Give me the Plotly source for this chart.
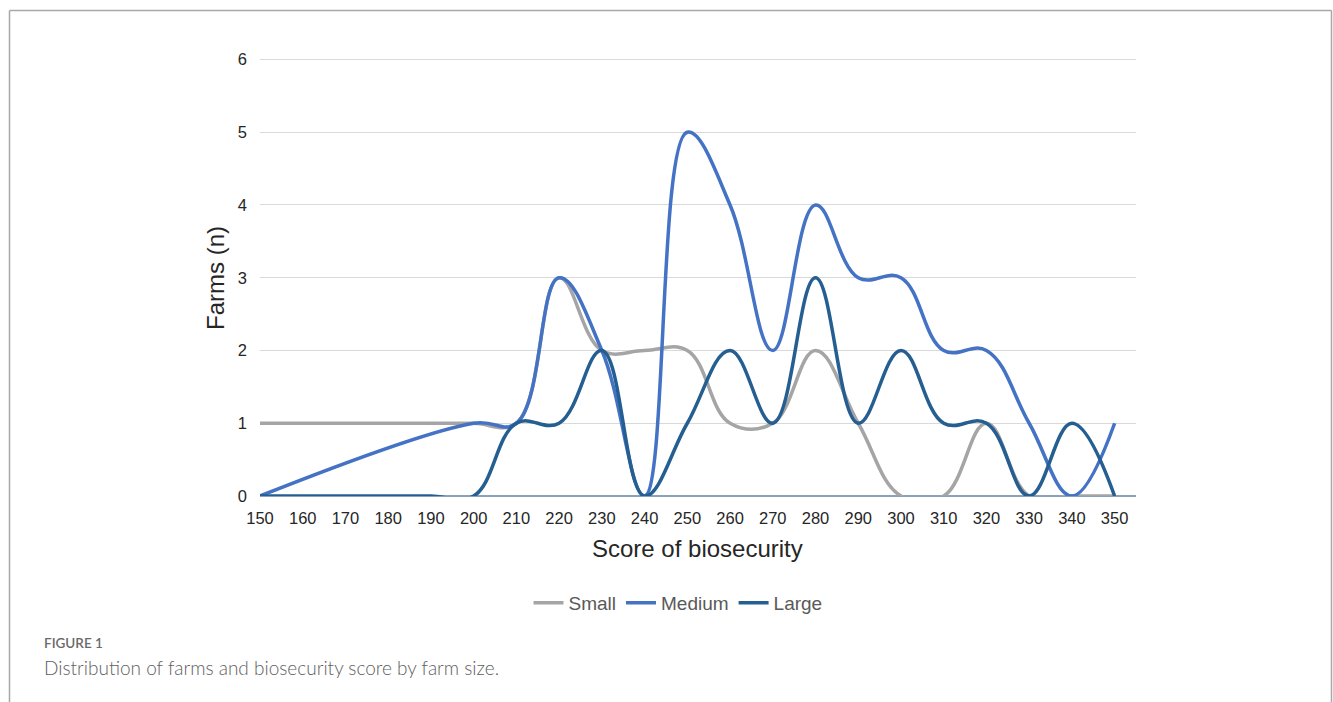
import plotly.graph_objects as go

# Biosecurity score bins (x) and number of farms per size class
scores = [150, 160, 170, 180, 190, 200, 210, 220, 230, 240, 250,
          260, 270, 280, 290, 300, 310, 320, 330, 340, 350]
small = [1, 1, 1, 1, 1, 1, 1, 3, 2, 2, 2, 1, 1, 2, 1, 0, 0, 1, 0, 0, 0]
medium = [0, None, None, None, None, 1, 1, 3, 2, 0, 5, 4, 2, 4, 3, 3, 2, 2, 1, 0, 1]
large = [0, 0, 0, 0, 0, 0, 1, 1, 2, 0, 1, 2, 1, 3, 1, 2, 1, 1, 0, 1, 0]

series_names = ["Small", "Medium", "Large"]
series_values = [small, medium, large]
series_colors = ["#a5a5a5", "#4472c4", "#255e91"]

x_ticks = list(range(150, 351, 10))
y_ticks = [0, 1, 2, 3, 4, 5, 6]

W, H = 1333, 702
L, R, T, B = 260, 1136, 58, 496  # plot area in pixels
pw, ph = R - L, B - T


def px(x):
    return (x - L) / pw


def py(y):
    return (B - y) / ph


fig = go.Figure()
for name, vals, col in zip(series_names, series_values, series_colors):
    fig.add_trace(go.Scatter(
        x=scores, y=vals, name=name, mode="lines",
        line=dict(color=col, width=3.5, shape="spline", smoothing=1.15),
        connectgaps=True,
    ))

SANS = "Liberation Sans, Arial, sans-serif"
axis_font = dict(family=SANS, size=16.5, color="#262626")

fig.update_layout(
    width=W, height=H,
    margin=dict(l=L, r=W - R, t=T, b=H - B, pad=0),
    paper_bgcolor="white", plot_bgcolor="white",
    showlegend=True,
    legend=dict(
        orientation="h", x=px(678), y=py(603), xanchor="center", yanchor="middle",
        font=dict(family=SANS, size=19, color="#595959"),
        itemwidth=30, tracegroupgap=0, bgcolor="rgba(0,0,0,0)",
    ),
    xaxis=dict(
        range=[150, 355], tickvals=x_ticks, ticktext=[str(v) for v in x_ticks],
        showgrid=False, zeroline=False, showline=False, ticks="",
        tickfont=axis_font, ticklabelstandoff=10, fixedrange=True,
    ),
    yaxis=dict(
        range=[0, 6.02], tickvals=y_ticks, ticktext=[str(v) for v in y_ticks],
        showgrid=True, gridcolor="#d9d9d9", gridwidth=1,
        zeroline=True, zerolinecolor="#8aa3bb", zerolinewidth=2,
        showline=False, ticks="", tickfont=axis_font, ticklabelstandoff=12,
        fixedrange=True,
    ),
)

annotations = [
    dict(text="Score of biosecurity", x=px(697), y=py(548), xref="paper", yref="paper",
         showarrow=False, xanchor="center", yanchor="middle",
         font=dict(family=SANS, size=24, color="#262626")),
    dict(text="Farms (n)", x=px(215), y=py(278), xref="paper", yref="paper",
         showarrow=False, xanchor="center", yanchor="middle", textangle=-90,
         font=dict(family=SANS, size=24, color="#262626")),
    dict(text="FIGURE 1", x=px(42), y=py(643), xref="paper", yref="paper",
         showarrow=False, xanchor="left", yanchor="middle",
         font=dict(family="Lato, Open Sans, sans-serif", size=13.5, color="#6a6a6a",
                   weight=600)),
    dict(text="Distribution of farms and biosecurity score by farm size.",
         x=px(42), y=py(667), xref="paper", yref="paper",
         showarrow=False, xanchor="left", yanchor="middle",
         font=dict(family="Lato, Open Sans, sans-serif", size=19, color="#5e5e5e",
                   weight=300)),
]
fig.update_layout(annotations=annotations)

# Frame around the figure panel (top, left and right edges)
frame = dict(color="#a8a8a8", width=1.5)
fig.add_shape(type="line", xref="paper", yref="paper",
              x0=px(9.5), x1=px(1331.5), y0=py(10.5), y1=py(10.5), line=frame)
fig.add_shape(type="line", xref="paper", yref="paper",
              x0=px(9.5), x1=px(9.5), y0=py(10.5), y1=py(702), line=frame)
fig.add_shape(type="line", xref="paper", yref="paper",
              x0=px(1331.5), x1=px(1331.5), y0=py(10.5), y1=py(702), line=frame)

fig.write_html("out.html", config=dict(displayModeBar=False))
